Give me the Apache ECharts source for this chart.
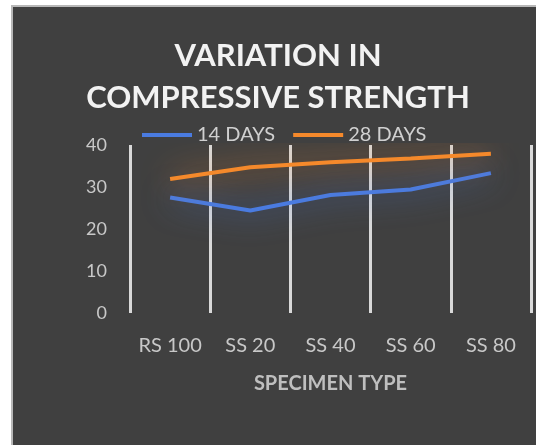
<!DOCTYPE html>
<html>
<head>
<meta charset="utf-8">
<script src="https://cdn.jsdelivr.net/npm/echarts@6/dist/echarts.min.js"></script>
<style>
html,body{margin:0;padding:0;background:#fff;}
#c{position:absolute;left:0;top:0;width:536px;height:445px;}
</style>
</head>
<body>
<div id="c"></div>
<script>
const categories = ['RS 100', 'SS 20', 'SS 40', 'SS 60', 'SS 80'];
const days14 = [27.5, 24.4, 28.1, 29.4, 33.3];
const days28 = [31.9, 34.7, 35.9, 36.8, 37.9];
const seriesNames = ['14 DAYS', '28 DAYS'];
const yTicks = { min: 0, max: 40, interval: 10 };

const FONT = 'Lato, "Open Sans", sans-serif';
const chart = echarts.init(document.getElementById('c'), null, { renderer: 'canvas' });
chart.setOption({
  backgroundColor: '#404040',
  animation: false,
  graphic: [
    { type: 'rect', shape: { x: 0, y: 0, width: 536, height: 5 }, style: { fill: '#ffffff' }, z: 100 },
    { type: 'rect', shape: { x: 0, y: 0, width: 11, height: 445 }, style: { fill: '#ffffff' }, z: 100 },
    { type: 'rect', shape: { x: 11, y: 5, width: 525, height: 2 }, style: { fill: '#b8b8b8' }, z: 100 },
    { type: 'rect', shape: { x: 11, y: 5, width: 2, height: 440 }, style: { fill: '#b8b8b8' }, z: 100 }
  ],
  title: {
    text: 'VARIATION IN\nCOMPRESSIVE STRENGTH',
    left: 273,
    top: 30,
    textAlign: 'center',
    textStyle: { color: '#f2f2f2', fontFamily: FONT, fontWeight: 'bold', fontSize: 31, lineHeight: 42 }
  },
  legend: {
    data: seriesNames,
    left: 137,
    top: 120,
    icon: 'rect',
    itemWidth: 50,
    itemHeight: 4,
    itemGap: 18,
    textStyle: { color: '#d0d0d0', fontFamily: FONT, fontSize: 20 }
  },
  grid: { left: 130, right: 5, top: 145, bottom: 132, containLabel: false },
  xAxis: {
    type: 'category',
    data: categories,
    boundaryGap: true,
    name: 'SPECIMEN TYPE',
    nameLocation: 'middle',
    nameGap: 61,
    nameTextStyle: { color: '#bfbfbf', fontFamily: FONT, fontSize: 20, fontWeight: 'bold' },
    axisLine: { show: false },
    axisTick: { show: false, interval: 0 },
    axisLabel: { color: '#c8c8c8', fontFamily: FONT, fontSize: 20, margin: 23, interval: 0, hideOverlap: false },
    splitLine: { show: true, interval: 0, lineStyle: { color: '#d9d9d9', width: 3 } }
  },
  yAxis: {
    type: 'value',
    min: yTicks.min,
    max: yTicks.max,
    interval: yTicks.interval,
    axisLine: { show: false },
    axisTick: { show: false },
    splitLine: { show: false },
    axisLabel: { color: '#c8c8c8', fontFamily: FONT, fontSize: 18, margin: 23 }
  },
  series: [
    {
      name: seriesNames[0], type: 'line', data: days14, symbol: 'none', z: 3,
      itemStyle: { color: '#4a7be0' },
      lineStyle: { color: '#4a7be0', width: 4, shadowColor: 'rgba(74,123,224,0.95)', shadowBlur: 30 }
    },
    {
      name: seriesNames[1], type: 'line', data: days28, symbol: 'none', z: 3,
      itemStyle: { color: '#f5892b' },
      lineStyle: { color: '#f5892b', width: 4, shadowColor: 'rgba(245,137,43,0.95)', shadowBlur: 30 }
    }
  ]
});
</script>
</body>
</html>
